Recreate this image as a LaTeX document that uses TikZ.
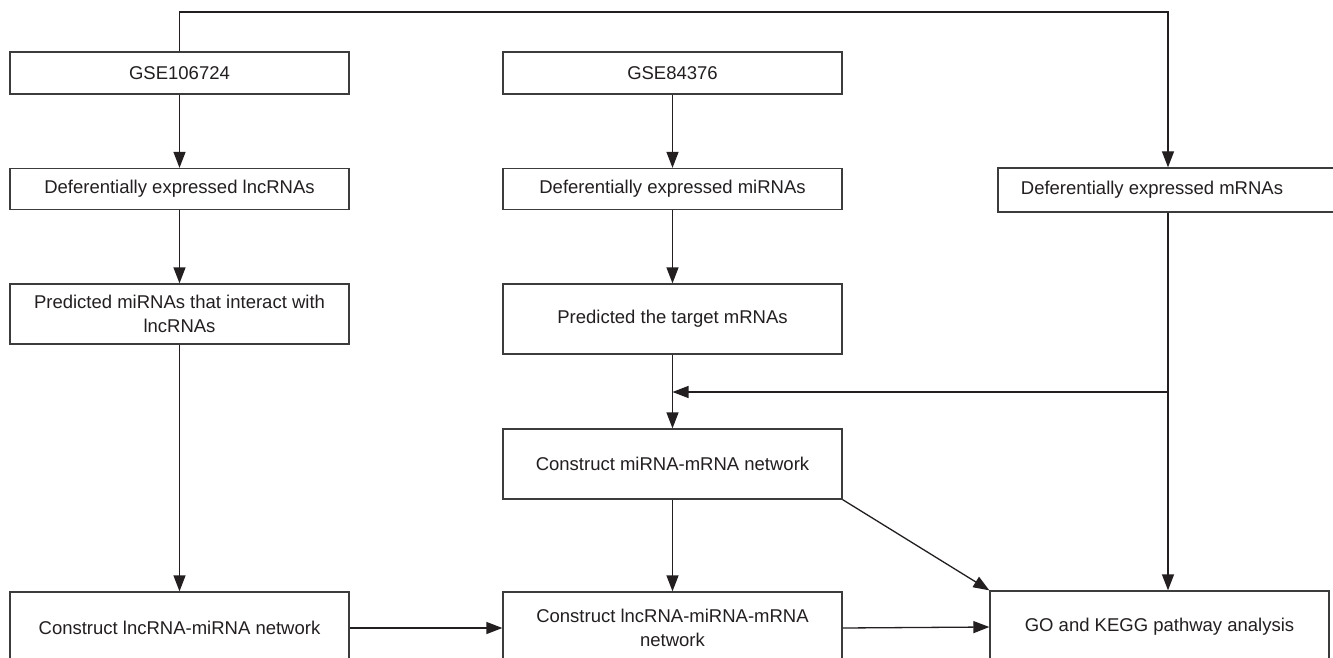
\documentclass[tikz,border=0pt]{standalone}
\usepackage{fontspec}
\setmainfont{Liberation Sans}
\usetikzlibrary{arrows.meta}
\definecolor{ink}{RGB}{35,31,32}
\definecolor{edge}{RGB}{60,60,60}
\tikzset{
  box/.style={draw=edge, line width=1.3pt, rectangle, inner sep=0pt,
    minimum width=339pt, align=center, text=ink,
    font=\fontsize{18.5}{24}\selectfont},
  arr/.style={draw=ink, line width=1.3pt,
    -{Triangle[length=16pt,width=12pt]}},
  ln/.style={draw=ink, line width=1.3pt}
}
\begin{document}
\begin{tikzpicture}[x=1pt,y=-1pt]
\useasboundingbox (0,0) rectangle (1333,658);
\clip (0,0) rectangle (1333,658);
\fill[white] (0,0) rectangle (1333,658);

% lncRNA branch
\node[box, minimum height=42pt] (g1) at (179.5,73) {GSE106724};
\node[box, minimum height=41pt] (l1) at (179.5,189) {Deferentially expressed lncRNAs};
\node[box, minimum height=60pt] (p1) at (179.5,314) {Predicted miRNAs that interact with\\lncRNAs};
\node[box, minimum height=72pt] (c1) at (179.5,628) {Construct lncRNA-miRNA network};

% miRNA branch
\node[box, minimum height=42pt] (g2) at (672.5,73) {GSE84376};
\node[box, minimum height=41pt] (m2) at (672.5,189) {Deferentially expressed miRNAs};
\node[box, minimum height=70pt] (t2) at (672.5,319) {Predicted the target mRNAs};
\node[box, minimum height=70pt] (n2) at (672.5,464) {Construct miRNA-mRNA network};
\node[box, minimum height=72pt] (c2) at (672.5,628) {Construct lncRNA-miRNA-mRNA\\network};

% mRNA branch and enrichment
\node[box, minimum width=342pt, minimum height=44pt] (mr) at (1169,190) {\hspace*{-34pt}Deferentially expressed mRNAs};
\node[box, minimum height=72pt] (go) at (1159.5,627) {GO and KEGG pathway analysis};

\coordinate (top) at (1168,12);
\coordinate (jn) at (1168,392);

% connectors
\draw[arr] (g1.north) |- (top) -- (mr.north -| top);
\draw[arr] (g1) -- (l1);
\draw[arr] (l1) -- (p1);
\draw[arr] (p1) -- (c1);
\draw[arr] (g2) -- (m2);
\draw[arr] (m2) -- (t2);
\draw[ln] (t2.south) -- (jn -| t2.south);
\draw[arr] (t2.south) -- (n2.north);
\draw[arr] (mr.south -| top) -- (go.north -| top);
\draw[arr] (jn) -- (jn -| t2.south);
\draw[arr] (n2) -- (c2);
\draw[arr] (n2.south east) -- (go.north west);
\draw[arr] (c1.east) -- (c2.west);
\draw[arr] (c2.east) -- (go.west);
\end{tikzpicture}
\end{document}
